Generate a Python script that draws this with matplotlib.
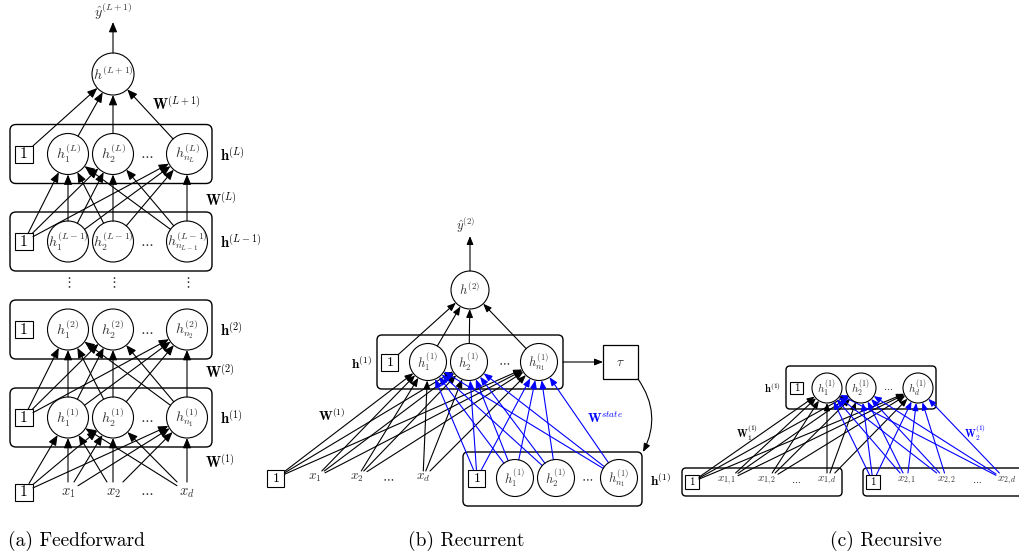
import numpy as np
import matplotlib.pyplot as plt
from matplotlib.patches import Circle, Rectangle, FancyBboxPatch, FancyArrowPatch

plt.rcParams['mathtext.fontset'] = 'cm'

# ---- labels (a) feedforward
ff_units = [
    [r'$h_1^{(L)}$', r'$h_2^{(L)}$', r'$h_{n_L}^{(L)}$'],
    [r'$h_1^{(L-1)}$', r'$h_2^{(L-1)}$', r'$h_{n_{L-1}}^{(L-1)}$'],
    [r'$h_1^{(2)}$', r'$h_2^{(2)}$', r'$h_{n_2}^{(2)}$'],
    [r'$h_1^{(1)}$', r'$h_2^{(1)}$', r'$h_{n_1}^{(1)}$'],
]
ff_layer_names = [r'$\mathbf{h}^{(L)}$', r'$\mathbf{h}^{(L-1)}$',
                  r'$\mathbf{h}^{(2)}$', r'$\mathbf{h}^{(1)}$']
ff_weight_names = [r'$\mathbf{W}^{(L)}$', r'$\mathbf{W}^{(2)}$', r'$\mathbf{W}^{(1)}$']
ff_inputs = [r'$x_1$', r'$x_2$', r'$x_d$']
ff_out = r'$h^{(L+1)}$'
ff_yhat = r'$\hat{y}^{(L+1)}$'
ff_wout = r'$\mathbf{W}^{(L+1)}$'

# ---- labels (b) recurrent
rnn_hidden = [r'$h_1^{(1)}$', r'$h_2^{(1)}$', r'$h_{n_1}^{(1)}$']
rnn_inputs = [r'$x_1$', r'$x_2$', r'$x_d$']
rnn_out = r'$h^{(2)}$'
rnn_yhat = r'$\hat{y}^{(2)}$'

# ---- labels (c) recursive
rec_hidden = [r'$h_1^{(1)}$', r'$h_2^{(1)}$', r'$h_d^{(1)}$']
rec_left = [r'$x_{1,1}$', r'$x_{1,2}$', r'$x_{1,d}$']
rec_right = [r'$x_{2,1}$', r'$x_{2,2}$', r'$x_{2,d}$']

captions = ['(a) Feedforward', '(b) Recurrent', '(c) Recursive']

BLUE = '#0000ff'
TXT = '#333333'

fig = plt.figure(figsize=(10.19, 5.58), dpi=100)
ax = fig.add_axes([0, 0, 1, 1])
ax.set_xlim(0, 1019)
ax.set_ylim(558, 0)
ax.axis('off')


def edge_point(node, tx, ty):
    kind, x, y, a, b = node
    dx, dy = tx - x, ty - y
    d = np.hypot(dx, dy)
    if kind == 'c':
        return x + a * dx / d, y + a * dy / d
    tx_ = a / abs(dx) if dx else np.inf
    ty_ = b / abs(dy) if dy else np.inf
    t = min(tx_, ty_)
    return x + t * dx, y + t * dy


def arrow(src, dst, color='black', hl=6.0, hw=2.5, lw=0.8):
    p0 = edge_point(src, dst[1], dst[2])
    p1 = edge_point(dst, src[1], src[2])
    ax.add_patch(FancyArrowPatch(p0, p1, arrowstyle=f'-|>,head_length={hl},head_width={hw}',
                                 mutation_scale=1, color=color, lw=lw,
                                 shrinkA=0, shrinkB=0, zorder=2))


def circle(x, y, r, label, fs):
    ax.add_patch(Circle((x, y), r, fc='none', ec='black', lw=0.8, zorder=3))
    ax.text(x, y, label, ha='center', va='center', fontsize=fs, color=TXT, zorder=4)
    return ('c', x, y, r, r)


def square(x, y, hw, hh, fs):
    ax.add_patch(Rectangle((x - hw, y - hh), 2 * hw, 2 * hh, fc='none', ec='black',
                           lw=0.8, zorder=3))
    ax.text(x, y + 0.5, '1', ha='center', va='center', fontsize=fs, family='cmr10', zorder=4)
    return ('r', x, y, hw, hh)


def label_node(x, y, label, fs, hw, hh):
    ax.text(x, y, label, ha='center', va='center', fontsize=fs, color=TXT, zorder=4)
    return ('r', x, y, hw, hh)


def rbox(x0, y0, x1, y1, rs=5):
    ax.add_patch(FancyBboxPatch((x0, y0), x1 - x0, y1 - y0,
                                boxstyle=f'round,pad=0,rounding_size={rs}',
                                fc='none', ec='black', lw=1.0, zorder=1))


def dots(x, y, fs):
    ax.text(x, y, r'$\cdots$', ha='center', va='center', fontsize=fs, color=TXT)


# ================= (a) feedforward =================
ff_cx = [68, 113, 187]
ff_rows = [154, 241.5, 329.5, 417.5]
ff_r = 20.5
layers = []
for units, cy, name in zip(ff_units, ff_rows, ff_layer_names):
    rbox(10, cy - 29.5, 212, cy + 29.5, rs=6)
    nodes = [square(24, cy, 9, 8.5, 11)]
    for x, lab in zip(ff_cx, units):
        nodes.append(circle(x, cy, ff_r, lab, 10))
    dots(147, cy + 1, 10)
    ax.text(220, cy + 1, name, ha='left', va='center', fontsize=10.5)
    layers.append(nodes)

for x in ff_cx:
    ax.text(x, 283, r'$\vdots$', ha='center', va='center', fontsize=10, color=TXT)

inp = [square(24, 492, 9, 8.5, 11)]
for x, lab in zip(ff_cx, ff_inputs):
    inp.append(label_node(x, 492, lab, 10.5, 10, 10))
dots(147, 492, 10)

top = circle(113, 74, 21, ff_out, 10)
ax.text(113, 12, ff_yhat, ha='center', va='center', fontsize=10, color=TXT)
ax.add_patch(FancyArrowPatch((113, 53), (113, 22), arrowstyle='-|>,head_length=6,head_width=2.5',
                             mutation_scale=1, color='black', lw=0.8, shrinkA=0, shrinkB=0))

for pairs in [(layers[1], layers[0]), (layers[3], layers[2]), (inp, layers[3])]:
    lower, upper = pairs
    for s in lower:
        for d in upper[1:]:
            arrow(s, d)
for s in layers[0]:
    arrow(s, top)

ax.text(152, 104, ff_wout, ha='left', va='center', fontsize=10.5)
for y, name in zip([200, 372, 462], ff_weight_names):
    ax.text(205, y, name, ha='left', va='center', fontsize=10.5)

# ================= (b) recurrent =================
rb_hl, rb_hw = 5.0, 2.0
rbox(377, 335, 563, 389, rs=5)
hid = [square(390, 362, 8.5, 8.5, 10)]
for x, lab in zip([428, 469, 539], rnn_hidden):
    hid.append(circle(x, 362, 18.5, lab, 9))
dots(504, 362, 9)
ax.text(372, 364, r'$\mathbf{h}^{(1)}$', ha='right', va='center', fontsize=9.5)

out_b = circle(470, 290, 19, rnn_out, 9)
ax.text(465, 225, rnn_yhat, ha='center', va='center', fontsize=9, color=TXT)
ax.add_patch(FancyArrowPatch((470, 271), (470, 236), arrowstyle=f'-|>,head_length={rb_hl},head_width={rb_hw}',
                             mutation_scale=1, color='black', lw=0.8, shrinkA=0, shrinkB=0))
for s in hid:
    arrow(s, out_b, hl=rb_hl, hw=rb_hw)

# tau box
ax.add_patch(Rectangle((603, 345), 35, 34, fc='none', ec='black', lw=0.9))
ax.text(620, 362, r'$\tau$', ha='center', va='center', fontsize=9.5, color=TXT)
ax.add_patch(FancyArrowPatch((563, 362), (603, 362), arrowstyle=f'-|>,head_length={rb_hl},head_width={rb_hw}',
                             mutation_scale=1, color='black', lw=0.8, shrinkA=0, shrinkB=0))
ax.add_patch(FancyArrowPatch((638, 379), (643, 452), connectionstyle='arc3,rad=-0.3',
                             arrowstyle=f'-|>,head_length={rb_hl},head_width={rb_hw}',
                             mutation_scale=1, color='black', lw=0.8, shrinkA=0, shrinkB=0))

# inputs
xin = [square(276, 478, 8.5, 8.5, 10)]
for x, lab in zip([315, 357, 423], rnn_inputs):
    xin.append(label_node(x, 478, lab, 9.5, 10, 7))
dots(388, 478, 9)

# previous state
rbox(463, 452, 642, 506, rs=5)
prev = [square(477, 478, 8.5, 8.5, 10)]
for x, lab in zip([515, 556, 619], rnn_hidden):
    prev.append(circle(x, 478, 18.5, lab, 9))
dots(587, 478, 9)
ax.text(650, 481, r'$\mathbf{h}^{(1)}$', ha='left', va='center', fontsize=9.5)

for s in xin:
    for d in hid[1:]:
        arrow(s, d, hl=rb_hl, hw=rb_hw)
for s in prev:
    for d in hid[1:]:
        arrow(s, d, color=BLUE, hl=rb_hl, hw=rb_hw)

ax.text(332, 416, r'$\mathbf{W}^{(1)}$', ha='center', va='center', fontsize=9.5)
ax.text(605, 418, r'$\mathbf{W}^{state}$', ha='center', va='center', fontsize=9.5, color=BLUE)

# ================= (c) recursive =================
rc_hl, rc_hw = 4.5, 1.8
rbox(786, 366, 936, 409, rs=4)
hc = [square(797, 388, 6.5, 6, 8)]
for x, lab in zip([827, 861, 918], rec_hidden):
    hc.append(circle(x, 388, 15, lab, 8))
dots(888, 388, 7)
ax.text(772, 388, r'$\mathbf{h}^{(1)}$', ha='center', va='center', fontsize=7.5)

rbox(682, 468, 842, 496, rs=4)
left = [square(692, 482, 7, 7, 8)]
for x, lab in zip([727, 767, 827], rec_left):
    left.append(label_node(x, 481, lab, 8, 11, 8))
dots(796, 481, 7)

rbox(863, 468, 1030, 496, rs=4)
right = [square(873, 482, 7, 7, 8)]
for x, lab in zip([907, 947, 1007], rec_right):
    right.append(label_node(x, 481, lab, 8, 11, 8))
dots(977, 481, 7)

for s in left:
    for d in hc[1:]:
        arrow(s, d, hl=rc_hl, hw=rc_hw)
for s in right:
    for d in hc[1:]:
        arrow(s, d, color=BLUE, hl=rc_hl, hw=rc_hw)

ax.text(747, 433, r'$\mathbf{W}_1^{(1)}$', ha='center', va='center', fontsize=7.5)
ax.text(975, 433, r'$\mathbf{W}_2^{(1)}$', ha='center', va='center', fontsize=7.5, color=BLUE)

# ---- captions
for x, cap in zip([8, 408, 830], captions):
    ax.text(x, 541, cap, ha='left', va='center', fontsize=14, family='cmr10')

fig.savefig('out.png', dpi=100)
